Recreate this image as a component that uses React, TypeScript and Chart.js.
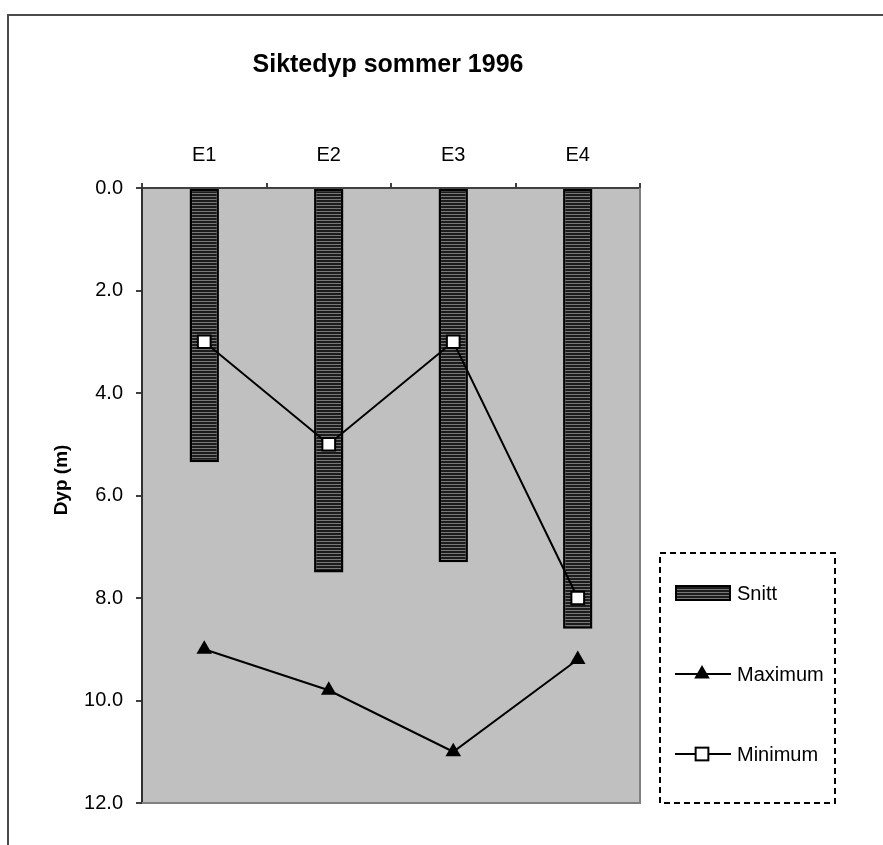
import React, { useEffect, useRef } from "react";
import { Chart, registerables } from "chart.js";

Chart.register(...registerables);

const categories = ["E1", "E2", "E3", "E4"];
const snitt = [5.35, 7.5, 7.3, 8.6];
const maximum = [9.0, 9.8, 11.0, 9.2];
const minimum = [3.0, 5.0, 3.0, 8.0];
const yTickValues = [0, 2, 4, 6, 8, 10, 12];
const yTickLabels = ["0.0", "2.0", "4.0", "6.0", "8.0", "10.0", "12.0"];
const chartTitle = "Siktedyp sommer 1996";
const yAxisTitle = "Dyp (m)";

const FONT = "'Liberation Sans', Arial, Helvetica, sans-serif";

function makePattern(): CanvasPattern | string {
  const c = document.createElement("canvas");
  c.width = 4;
  c.height = 3;
  const g = c.getContext("2d");
  if (!g) return "#222";
  g.fillStyle = "#1c1c1c";
  g.fillRect(0, 0, 4, 3);
  g.fillStyle = "#787878";
  g.fillRect(0, 1, 4, 1);
  const p = g.createPattern(c, "repeat");
  return p || "#222";
}

export default function App() {
  const ref = useRef<HTMLCanvasElement | null>(null);

  useEffect(() => {
    if (!ref.current) return;
    const pattern = makePattern();

    const framePlugin = {
      id: "framePlugin",
      beforeDraw(chart: any) {
        const ctx = chart.ctx;
        const a = chart.chartArea;
        ctx.save();
        ctx.fillStyle = "#ffffff";
        ctx.fillRect(0, 0, chart.width, chart.height);
        ctx.strokeStyle = "#4a4a4a";
        ctx.lineWidth = 2;
        ctx.strokeRect(8, 15, 3000, 3000);
        ctx.fillStyle = "#c0c0c0";
        ctx.fillRect(a.left, a.top, a.right - a.left, a.bottom - a.top);
        ctx.restore();
      },
      beforeDatasetsDraw(chart: any) {
        const ctx = chart.ctx;
        const a = chart.chartArea;
        ctx.save();
        ctx.strokeStyle = "#808080";
        ctx.lineWidth = 2;
        ctx.beginPath();
        ctx.moveTo(a.left, a.bottom);
        ctx.lineTo(a.right, a.bottom);
        ctx.lineTo(a.right, a.top);
        ctx.stroke();
        ctx.restore();
      },
      afterDraw(chart: any) {
        const ctx = chart.ctx;
        ctx.save();
        // Title
        ctx.fillStyle = "#000";
        ctx.font = `bold 25px ${FONT}`;
        ctx.textAlign = "center";
        ctx.textBaseline = "middle";
        ctx.fillText(chartTitle, 388, 65);
        // Y axis title
        ctx.save();
        ctx.translate(62, 480);
        ctx.rotate(-Math.PI / 2);
        ctx.font = `bold 19px ${FONT}`;
        ctx.fillText(yAxisTitle, 0, 0);
        ctx.restore();

        // Legend
        const lx = 660, ly = 553, lw = 175, lh = 250;
        ctx.strokeStyle = "#000";
        ctx.lineWidth = 2;
        ctx.setLineDash([6, 4]);
        ctx.strokeRect(lx, ly, lw, lh);
        ctx.setLineDash([]);

        const ds = chart.data.datasets;
        const rows = [593, 674, 754];
        ctx.font = `20px ${FONT}`;
        ctx.textAlign = "left";
        ctx.textBaseline = "middle";
        ds.forEach((d: any, i: number) => {
          const y = rows[i];
          if (d.type === "bar") {
            ctx.fillStyle = d.backgroundColor;
            ctx.fillRect(676, y - 7, 54, 14);
            ctx.strokeStyle = "#000";
            ctx.lineWidth = 2;
            ctx.strokeRect(676, y - 7, 54, 14);
          } else {
            ctx.strokeStyle = "#000";
            ctx.lineWidth = 2;
            ctx.beginPath();
            ctx.moveTo(675, y);
            ctx.lineTo(731, y);
            ctx.stroke();
            const r = d.pointRadius;
            if (d.pointStyle === "triangle") {
              ctx.fillStyle = "#000";
              ctx.beginPath();
              ctx.moveTo(702, y - r);
              ctx.lineTo(702 + r * Math.sin((2 * Math.PI) / 3), y + r / 2);
              ctx.lineTo(702 - r * Math.sin((2 * Math.PI) / 3), y + r / 2);
              ctx.closePath();
              ctx.fill();
            } else {
              const s = Math.SQRT1_2 * r;
              ctx.fillStyle = "#fff";
              ctx.fillRect(702 - s, y - s, 2 * s, 2 * s);
              ctx.strokeRect(702 - s, y - s, 2 * s, 2 * s);
            }
          }
          ctx.fillStyle = "#000";
          ctx.fillText(d.label, 737, y + 1);
        });
        ctx.restore();
      },
    };

    const chart = new Chart(ref.current, {
      type: "bar",
      data: {
        labels: categories,
        datasets: [
          {
            type: "bar",
            label: "Snitt",
            data: snitt,
            backgroundColor: pattern as any,
            borderColor: "#000",
            borderWidth: 2.5,
            borderSkipped: false,
            categoryPercentage: 1,
            barPercentage: 0.236,
            order: 3,
          } as any,
          {
            type: "line",
            label: "Maximum",
            data: maximum,
            borderColor: "#000",
            borderWidth: 2,
            pointStyle: "triangle",
            pointRadius: 9,
            pointBackgroundColor: "#000",
            pointBorderColor: "#000",
            pointBorderWidth: 0,
            tension: 0,
            fill: false,
            order: 2,
          } as any,
          {
            type: "line",
            label: "Minimum",
            data: minimum,
            borderColor: "#000",
            borderWidth: 2,
            pointStyle: "rect",
            pointRadius: 9,
            pointBackgroundColor: "#fff",
            pointBorderColor: "#000",
            pointBorderWidth: 2,
            tension: 0,
            fill: false,
            order: 1,
          } as any,
        ],
      },
      options: {
        animation: false,
        responsive: false,
        devicePixelRatio: window.devicePixelRatio || 1,
        layout: { padding: { left: 0, top: 0, right: 243, bottom: 42 } },
        plugins: {
          legend: { display: false },
          title: { display: false },
          tooltip: { enabled: false },
        },
        scales: {
          x: {
            type: "category",
            position: "top",
            offset: true,
            grid: {
              offset: true,
              drawOnChartArea: false,
              drawTicks: true,
              tickLength: 5,
              color: "#404040",
              lineWidth: 2,
            },
            border: { display: true, color: "#404040", width: 2 },
            ticks: {
              color: "#000",
              font: { family: FONT, size: 20 },
              padding: 16,
              maxRotation: 0,
            },
            afterFit(scale: any) {
              scale.height = 188;
            },
          },
          y: {
            type: "linear",
            reverse: true,
            min: 0,
            max: 12,
            grid: {
              drawOnChartArea: false,
              drawTicks: true,
              tickLength: 6,
              color: "#404040",
              lineWidth: 2,
            },
            border: { display: true, color: "#303030", width: 2 },
            ticks: {
              color: "#000",
              font: { family: FONT, size: 20 },
              padding: 13,
              callback: (v: any) => {
                const i = yTickValues.indexOf(Number(v));
                return i >= 0 ? yTickLabels[i] : "";
              },
            },
            afterBuildTicks(scale: any) {
              scale.ticks = yTickValues.map((v) => ({ value: v }));
            },
            afterFit(scale: any) {
              scale.width = 142;
            },
          },
        },
      } as any,
      plugins: [framePlugin],
    });

    return () => chart.destroy();
  }, []);

  return (
    <div style={{ position: "fixed", left: 0, top: 0, width: 883, height: 845, background: "#fff" }}>
      <canvas ref={ref} width={883} height={845} style={{ width: 883, height: 845, display: "block" }} />
    </div>
  );
}
